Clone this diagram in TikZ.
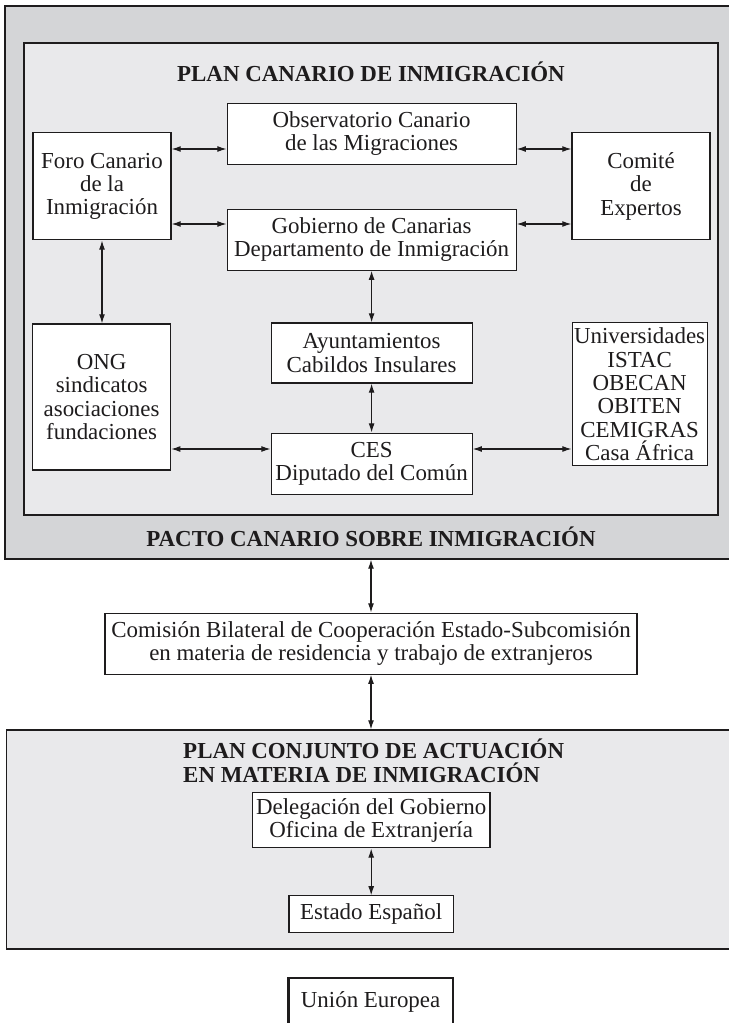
\documentclass[tikz,border=0pt]{standalone}
\usepackage{fontspec}
\setmainfont{Liberation Serif}
\usepackage{tikz}
\usetikzlibrary{arrows.meta}
\definecolor{grisosc}{RGB}{212,213,215}
\definecolor{grisclr}{RGB}{233,233,235}
\definecolor{tinta}{RGB}{30,28,29}

\begin{document}
\begin{tikzpicture}[>={Latex[length=6.5pt,width=4.2pt]}, line width=0.8pt, draw=tinta,
	caja/.style={draw=tinta, fill=white, align=center, inner sep=1pt, text=tinta,
		font=\fontsize{16.3}{16.6}\selectfont},
	marco/.style={draw=tinta, inner sep=0pt},
	titulo/.style={text=tinta, font=\bfseries\fontsize{16.3}{17.2}\selectfont}]
	\useasboundingbox (0,0) rectangle (18.2,-25.575);
%	\draw [help lines] (0,0) grid (18,-25);
	% pacto y plan canario
	\node [marco, fill=grisosc, minimum width=18.375cm, minimum height=13.825cm] (pacto) at (9.3125,-7.0625) {};
	\node [marco, fill=grisclr, minimum width=17.35cm, minimum height=11.8cm] (plan) at (9.275,-6.975) {};
	\node [titulo] (tplan) at (9.275,-1.8) {PLAN CANARIO DE INMIGRACIÓN};
	\node [titulo] (tpacto) at (9.275,-13.425) {PACTO CANARIO SOBRE INMIGRACIÓN};

	\node [caja, minimum width=7.225cm, minimum height=1.525cm] (obs) at (9.29,-3.34) {Observatorio Canario\\de las Migraciones};
	\node [caja, minimum width=7.225cm, minimum height=1.525cm] (gob) at (9.29,-5.99) {Gobierno de Canarias\\Departamento de Inmigración};
	\node [caja, minimum width=3.45cm, minimum height=2.675cm] (foro) at (2.55,-4.66) {Foro Canario\\de la\\Inmigración};
	\node [caja, minimum width=3.45cm, minimum height=2.675cm] (comite) at (16.025,-4.66) {Comité\\de\\Expertos};
	\node [caja, minimum width=3.45cm, minimum height=3.65cm] (ong) at (2.54,-9.925) {ONG\\sindicatos\\asociaciones\\fundaciones};
	\node [caja, minimum width=5.025cm, minimum height=1.5cm] (ayunt) at (9.29,-8.825) {Ayuntamientos\\Cabildos Insulares};
	\node [caja, minimum width=3.375cm, minimum height=3.575cm] (univ) at (15.99,-9.86) {Universidades\\ISTAC\\OBECAN\\OBITEN\\CEMIGRAS\\Casa África};
	\node [caja, minimum width=5.025cm, minimum height=1.525cm] (ces) at (9.29,-11.59) {CES\\Diputado del Común};

	\draw [<->] (foro.east |- 0,-3.725) -- (obs.west |- 0,-3.725);
	\draw [<->] (foro.east |- 0,-5.6) -- (gob.west |- 0,-5.6);
	\draw [<->] (obs.east |- 0,-3.725) -- (comite.west |- 0,-3.725);
	\draw [<->] (gob.east |- 0,-5.6) -- (comite.west |- 0,-5.6);
	\draw [<->] (foro.south) -- (foro.south |- ong.north);
	\draw [<->] (ayunt.north |- gob.south) -- (ayunt.north);
	\draw [<->] (ayunt.south) -- (ayunt.south |- ces.north);
	\draw [<->] (ong.east |- 0,-11.225) -- (ces.west |- 0,-11.225);
	\draw [<->] (ces.east |- 0,-11.225) -- (univ.west |- 0,-11.225);

	% comision bilateral
	\node [caja, minimum width=13.3cm, minimum height=1.525cm] (comision) at (9.275,-16.09) {Comisión Bilateral de Cooperación Estado-Subcomisión\\en materia de residencia y trabajo de extranjeros};
	\draw [<->] (comision.north |- pacto.south) -- (comision.north);

	% plan conjunto
	\node [marco, fill=grisclr, minimum width=18.34cm, minimum height=5.475cm] (conjunto) at (9.33,-20.9875) {};
	\draw [<->] (comision.south) -- (comision.south |- conjunto.north);
	\node [titulo, anchor=west, align=left] (tconjunto) at (4.45,-19.02) {PLAN CONJUNTO DE ACTUACIÓN\\EN MATERIA DE INMIGRACIÓN};
	\node [caja, minimum width=5.94cm, minimum height=1.375cm] (deleg) at (9.28,-20.51) {Delegación del Gobierno\\Oficina de Extranjería};
	\node [caja, minimum width=4.11cm, minimum height=0.925cm] (estado) at (9.28,-22.86) {Estado Español};
	\draw [<->] (deleg.south) -- (estado.north);

	% union europea
	\node [caja, line width=1.6pt, minimum width=4.11cm, minimum height=1.22cm] (ue) at (9.265,-25.06) {Unión Europea};
\end{tikzpicture}
\end{document}
